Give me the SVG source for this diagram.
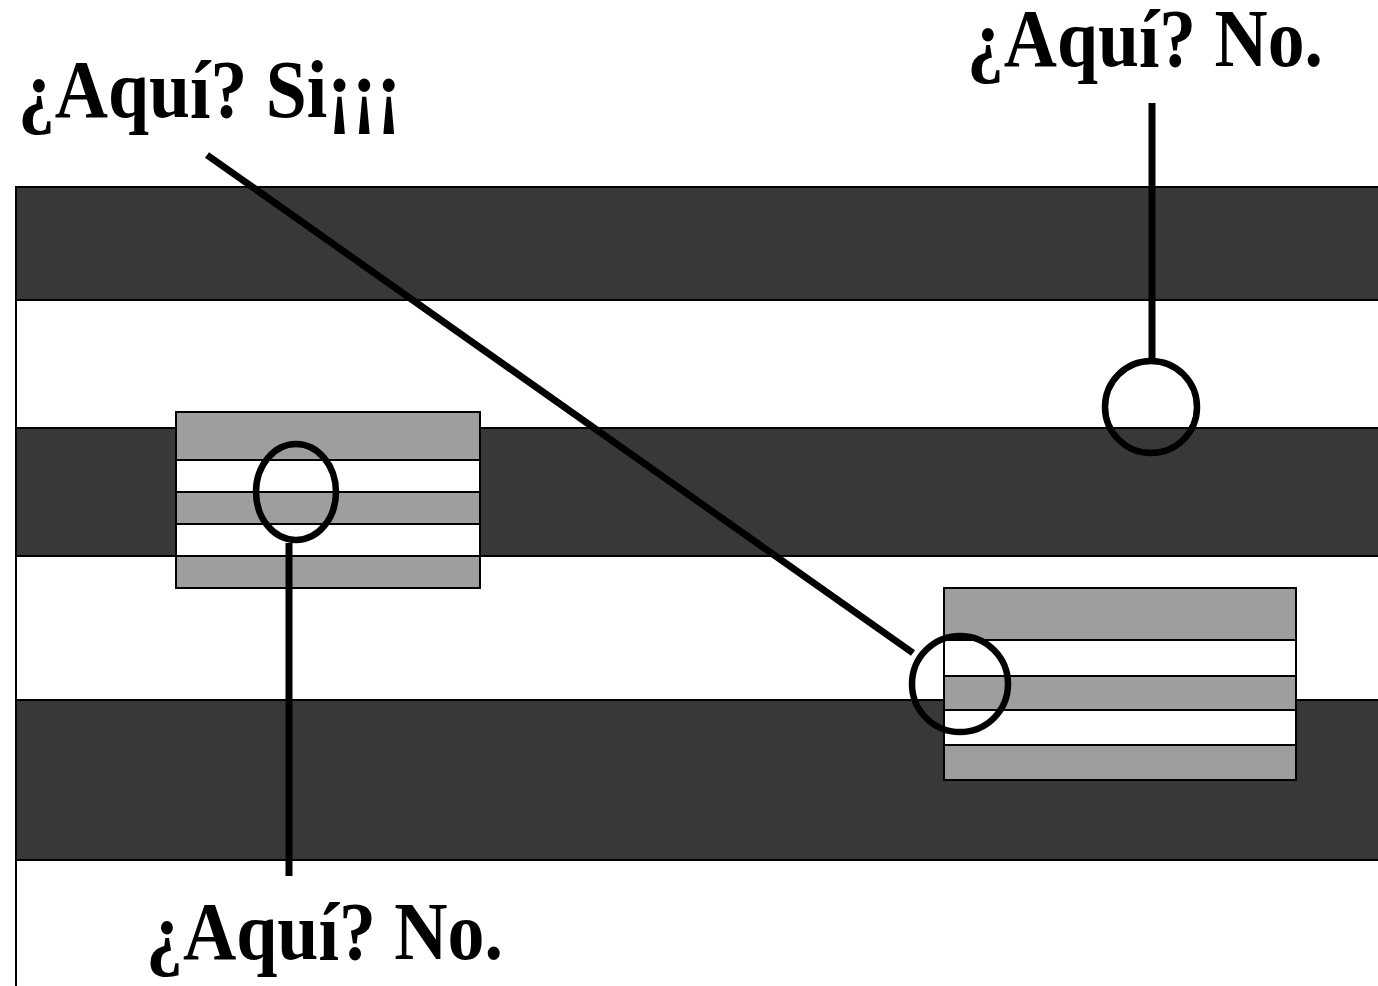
<svg xmlns="http://www.w3.org/2000/svg" width="1378" height="986" viewBox="0 0 1378 986">
  <style>
    .band { fill: #383838; stroke: #000; stroke-width: 2; }
    .gray { fill: #9e9e9e; stroke: #000; stroke-width: 2; }
    .white { fill: #fff; stroke: #000; stroke-width: 2; }
    .ring { fill: none; stroke: #000; stroke-width: 6.5; }
    .lead { stroke: #000; stroke-width: 7; fill: none; }
    .label { font-family: "Liberation Serif", "Times New Roman", serif; font-weight: bold; font-size: 83px; fill: #000; }
  </style>
  <rect width="1378" height="986" fill="#fff"/>

  <!-- background bands -->
  <g id="bands">
    <line x1="16" y1="187" x2="16" y2="986" stroke="#000" stroke-width="2"/>
    <rect class="band" x="16" y="187" width="1370" height="113"/>
    <rect class="band" x="16" y="428" width="1370" height="128"/>
    <rect class="band" x="16" y="700" width="1370" height="160"/>
  </g>

  <!-- left striped block -->
  <g id="block-left">
    <rect class="gray" x="176" y="412" width="304" height="48"/>
    <rect class="white" x="176" y="460" width="304" height="32"/>
    <rect class="gray" x="176" y="492" width="304" height="32"/>
    <rect class="white" x="176" y="524" width="304" height="32"/>
    <rect class="gray" x="176" y="556" width="304" height="32"/>
  </g>

  <!-- right striped block -->
  <g id="block-right">
    <rect class="gray" x="944" y="588" width="352" height="52"/>
    <rect class="white" x="944" y="640" width="352" height="36"/>
    <rect class="gray" x="944" y="676" width="352" height="34"/>
    <rect class="white" x="944" y="710" width="352" height="35"/>
    <rect class="gray" x="944" y="745" width="352" height="35"/>
  </g>

  <!-- callout markers -->
  <g id="marker-left">
    <ellipse class="ring" cx="296" cy="492" rx="40" ry="48"/>
  </g>
  <g id="marker-right">
    <circle class="ring" cx="960" cy="684" r="48"/>
  </g>
  <g id="marker-top">
    <circle class="ring" cx="1151" cy="407" r="46"/>
  </g>

  <!-- leader lines -->
  <g id="connectors">
    <line class="lead" x1="289" y1="543" x2="289" y2="876"/>
    <line class="lead" x1="207" y1="155" x2="913" y2="653"/>
    <line class="lead" x1="1152" y1="103" x2="1152" y2="360"/>
  </g>

  <!-- labels -->
  <g id="label-si">
    <text class="label" x="18" y="117" textLength="383" lengthAdjust="spacingAndGlyphs">¿Aquí? Si¡¡¡</text>
  </g>
  <g id="label-no-top">
    <text class="label" x="967" y="66" textLength="356" lengthAdjust="spacingAndGlyphs">¿Aquí? No.</text>
  </g>
  <g id="label-no-bottom">
    <text class="label" x="146" y="959" textLength="357" lengthAdjust="spacingAndGlyphs">¿Aquí? No.</text>
  </g>
</svg>
